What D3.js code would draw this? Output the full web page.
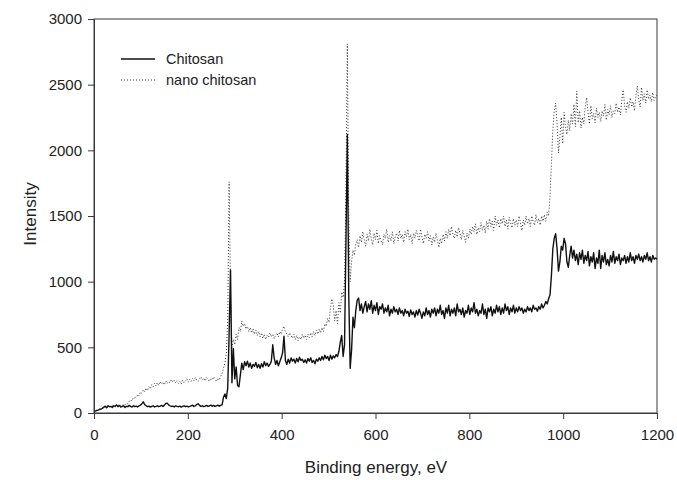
<!DOCTYPE html>
<html>
<head>
<meta charset="utf-8">
<script src="https://cdn.jsdelivr.net/npm/d3@7"></script>
<style>
  body { margin: 0; background: #fff; }
  svg { display: block; font-family: "Liberation Sans", Arial, sans-serif; }
</style>
</head>
<body>
<svg id="chart"></svg>
<script>
// spectra sampled every 3 eV, from 0 to 1200 eV
var energyStep = 3;

var chitosan = [
  8,15,20,22,28,30,35,45,52,40,
  55,48,50,42,55,50,62,48,58,45,
  50,55,42,52,48,58,50,45,55,48,
  52,46,55,60,70,85,65,55,48,52,
  45,50,55,46,50,55,48,52,58,50,
  60,72,75,62,55,50,52,46,55,50,
  48,52,45,50,55,48,52,46,50,55,
  60,50,55,65,70,58,50,55,48,52,
  58,50,55,60,52,58,50,55,60,52,
  58,62,120,145,110,190,600,1090,230,490,
  260,350,210,200,290,380,330,390,360,395,
  350,380,340,370,355,385,345,370,340,375,
  350,390,360,380,355,370,395,520,420,370,
  400,360,390,420,460,585,400,370,410,380,
  420,395,410,380,415,390,425,400,410,385,
  405,380,415,395,420,385,400,375,410,395,
  420,400,430,405,440,415,430,400,440,410,
  435,420,445,430,470,540,590,430,520,1300,
  2120,900,340,480,730,650,780,860,875,780,
  830,760,810,850,770,830,790,855,760,820,
  780,840,750,810,790,830,760,800,770,820,
  740,790,760,810,770,790,750,800,760,780,
  740,790,760,775,735,785,750,770,730,780,
  745,790,760,720,770,740,800,750,780,730,
  790,760,800,740,790,760,820,750,780,720,
  800,760,820,740,790,760,800,740,830,770,
  790,750,800,730,780,760,820,750,800,770,
  840,760,790,740,780,760,830,750,790,720,
  800,770,810,740,790,760,820,770,810,750,
  800,760,830,780,810,750,800,770,820,760,
  800,770,810,780,800,760,790,770,810,780,
  800,770,820,790,800,775,810,790,830,800,
  820,850,830,870,900,1050,1250,1330,1365,1250,
  1080,1150,1270,1240,1330,1290,1150,1110,1200,1270,
  1180,1240,1160,1210,1130,1220,1170,1240,1140,1200,
  1160,1230,1120,1190,1150,1220,1100,1180,1140,1240,
  1100,1200,1150,1220,1130,1170,1120,1200,1150,1230,
  1140,1190,1160,1210,1130,1180,1160,1200,1140,1190,
  1150,1220,1160,1190,1140,1200,1170,1210,1160,1190,
  1150,1200,1170,1220,1160,1190,1150,1200,1170,1180,
  1170
];

var nanoChitosan = [
  5,12,18,25,30,35,38,42,45,48,
  50,55,48,60,52,58,50,62,55,60,
  58,65,62,75,70,90,85,110,100,125,
  115,140,130,160,150,175,160,190,170,200,
  185,215,200,225,205,230,210,240,220,235,
  215,245,225,240,230,255,235,250,230,245,
  225,240,220,250,230,245,260,235,255,240,
  265,245,270,250,240,260,275,250,265,245,
  270,255,240,265,250,275,260,240,265,250,
  280,300,340,380,450,700,1760,900,500,560,
  520,600,560,650,620,700,660,680,640,660,
  620,650,610,640,600,630,590,620,580,610,
  570,600,560,590,575,610,580,600,565,590,
  610,580,620,600,640,660,620,600,580,610,
  590,570,600,560,590,550,580,560,600,570,
  590,560,600,575,610,580,620,590,630,600,
  640,610,650,620,680,660,720,690,800,870,
  820,700,780,680,840,760,920,880,1000,1700,
  2810,1500,1000,1150,1240,1200,1290,1320,1260,1350,
  1300,1380,1320,1270,1360,1310,1400,1330,1280,1370,
  1320,1390,1290,1350,1310,1280,1360,1330,1400,1300,
  1350,1310,1380,1290,1340,1370,1310,1390,1330,1360,
  1300,1380,1340,1400,1320,1360,1290,1370,1330,1390,
  1350,1310,1400,1340,1290,1360,1330,1380,1310,1350,
  1280,1340,1300,1370,1320,1260,1330,1290,1360,1310,
  1380,1330,1400,1350,1420,1360,1330,1390,1340,1410,
  1370,1320,1390,1350,1300,1370,1330,1400,1360,1420,
  1380,1440,1360,1410,1380,1450,1390,1430,1370,1460,
  1400,1480,1420,1460,1390,1500,1430,1470,1410,1480,
  1440,1500,1420,1470,1400,1490,1450,1410,1480,1430,
  1470,1420,1500,1450,1390,1470,1430,1500,1440,1480,
  1420,1500,1460,1430,1510,1450,1480,1430,1500,1460,
  1510,1460,1530,1500,1650,1900,2150,2300,2360,2200,
  1980,2100,2250,2050,2290,2180,2120,2230,2150,2280,
  2200,2350,2180,2450,2210,2300,2170,2250,2200,2330,
  2400,2290,2200,2340,2240,2280,2210,2320,2250,2290,
  2220,2300,2260,2350,2230,2310,2270,2340,2250,2300,
  2280,2360,2290,2330,2270,2380,2460,2340,2290,2370,
  2320,2400,2330,2370,2300,2410,2490,2390,2330,2480,
  2380,2430,2360,2460,2390,2420,2370,2440,2380,2410,
  2420
];

var xTicks = [0, 200, 400, 600, 800, 1000, 1200];
var yTicks = [0, 500, 1000, 1500, 2000, 2500, 3000];
var legendNames = ["Chitosan", "nano chitosan"];

var W = 677, H = 480;
var margin = {top: 19, right: 20, bottom: 67, left: 94},
    width = 657 - margin.left,
    height = 413 - margin.top;

var svg = d3.select("#chart")
    .attr("width", W)
    .attr("height", H);

var g = svg.append("g")
    .attr("transform", "translate(" + margin.left + "," + margin.top + ")");

var x = d3.scaleLinear().domain([0, 1200]).range([0, width]);
var y = d3.scaleLinear().domain([0, 3000]).range([height, 0]);

// frame (top + right)
g.append("rect")
    .attr("x", 0).attr("y", 0)
    .attr("width", width).attr("height", height)
    .attr("fill", "none")
    .attr("stroke", "#3a3a3a")
    .attr("stroke-width", 1);

var line = d3.line()
    .x(function(d, i) { return x(i * energyStep); })
    .y(function(d) { return y(d); });

g.append("path")
    .datum(nanoChitosan)
    .attr("fill", "none")
    .attr("stroke", "#333")
    .attr("stroke-width", 1)
    .attr("stroke-dasharray", "1,2")
    .attr("d", line);

g.append("path")
    .datum(chitosan)
    .attr("fill", "none")
    .attr("stroke", "#111")
    .attr("stroke-width", 1.4)
    .attr("stroke-linejoin", "round")
    .attr("d", line);

// axes
var xAxis = g.append("g")
    .attr("transform", "translate(0," + height + ")")
    .call(d3.axisBottom(x).tickValues(xTicks).tickFormat(d3.format("d")).tickSize(6).tickPadding(10));
var yAxis = g.append("g")
    .call(d3.axisLeft(y).tickValues(yTicks).tickFormat(d3.format("d")).tickSize(6).tickPadding(6));

[xAxis, yAxis].forEach(function(a) {
  a.select(".domain").attr("stroke", "#3a3a3a");
  a.selectAll(".tick line").attr("stroke", "#3a3a3a");
  a.selectAll(".tick text")
    .attr("fill", "#222")
    .style("font-size", "15px")
    .style("font-family", "Liberation Sans, Arial, sans-serif");
});

// axis titles
svg.append("text")
    .attr("x", 376).attr("y", 473)
    .attr("text-anchor", "middle")
    .attr("fill", "#222")
    .style("font-size", "17px")
    .text("Binding energy, eV");

svg.append("text")
    .attr("transform", "translate(36,214) rotate(-90)")
    .attr("text-anchor", "middle")
    .attr("fill", "#222")
    .style("font-size", "17px")
    .text("Intensity");

// legend
var legend = svg.append("g").attr("transform", "translate(121,59)");
legendNames.forEach(function(name, i) {
  var row = legend.append("g").attr("transform", "translate(0," + (i * 21) + ")");
  row.append("line")
      .attr("x1", 0).attr("x2", 34)
      .attr("y1", 0).attr("y2", 0)
      .attr("stroke", i == 0 ? "#111" : "#333")
      .attr("stroke-width", i == 0 ? 1.4 : 1)
      .attr("stroke-dasharray", i == 0 ? null : "1,2");
  row.append("text")
      .attr("x", 45).attr("y", 0)
      .attr("dy", "0.35em")
      .attr("fill", "#222")
      .style("font-size", "14.5px")
      .text(name);
});
</script>
</body>
</html>
